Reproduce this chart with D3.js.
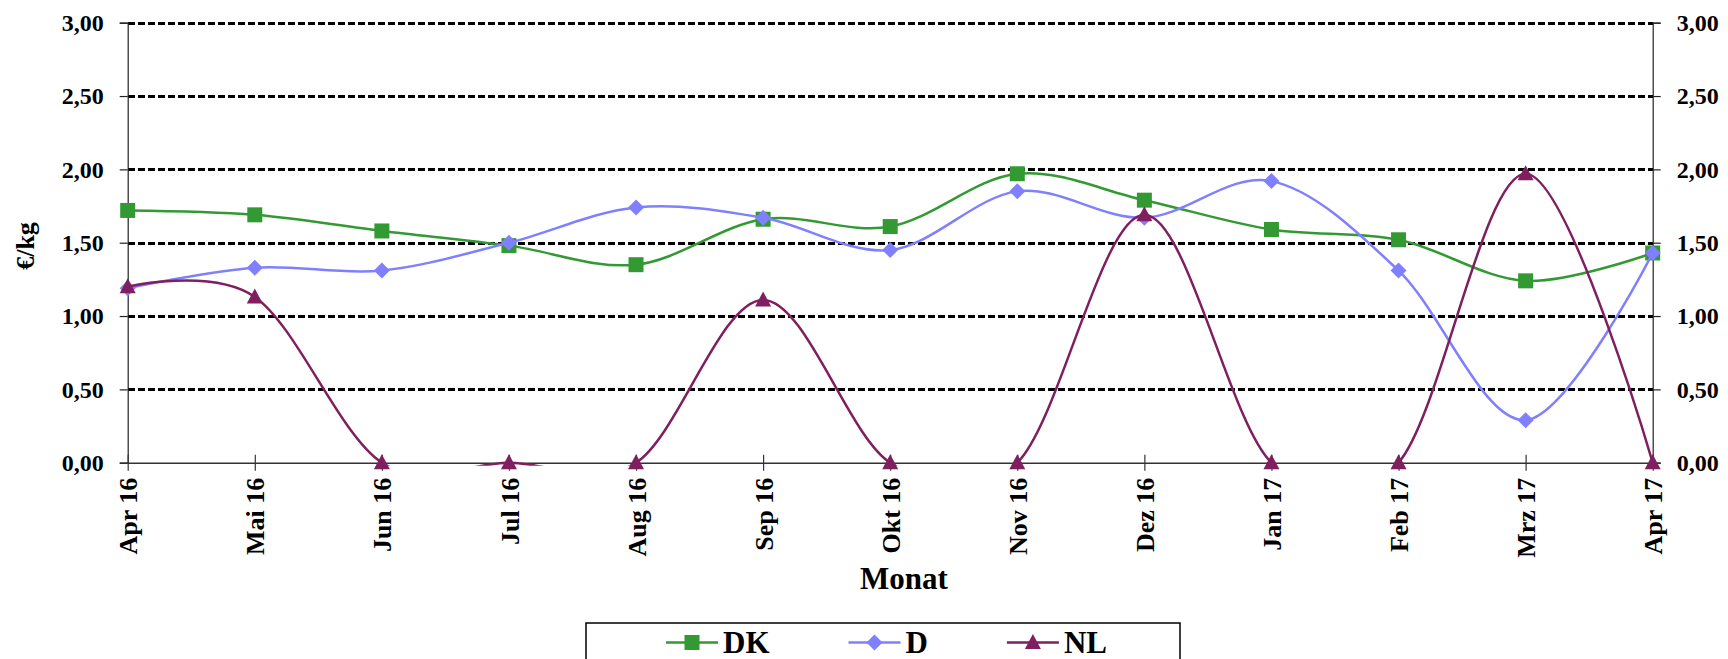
<!DOCTYPE html>
<html>
<head>
<meta charset="utf-8">
<script src="https://cdn.jsdelivr.net/npm/d3@7"></script>
<style>
  html, body { margin: 0; padding: 0; background: #fff; }
  svg { display: block; }
  text { font-family: 'Liberation Serif', 'Times New Roman', serif; font-weight: bold; fill: #000; }
</style>
</head>
<body>
<div id="chart"></div>
<script>
// data (€/kg per month)
const months = ['Apr 16', 'Mai 16', 'Jun 16', 'Jul 16', 'Aug 16', 'Sep 16', 'Okt 16',
  'Nov 16', 'Dez 16', 'Jan 17', 'Feb 17', 'Mrz 17', 'Apr 17'];
const dk = [1.72, 1.69, 1.58, 1.48, 1.35, 1.66, 1.61, 1.97, 1.79, 1.59, 1.52, 1.24, 1.43];
const de = [1.19, 1.33, 1.31, 1.50, 1.74, 1.67, 1.45, 1.85, 1.67, 1.92, 1.31, 0.29, 1.43];
const nl = [1.20, 1.13, 0, 0, 0, 1.11, 0, 0, 1.69, 0, 0, 1.97, 0];
const yTicks = [0, 0.5, 1, 1.5, 2, 2.5, 3];
const seriesNames = ['DK', 'D', 'NL'];

const width = 1728;
const height = 659;
const plot = { left: 127.7, right: 1652.7, top: 22.7, bottom: 462.7 };
const serif = "'Liberation Serif', 'Times New Roman', serif";

const svg = d3.select('#chart')
  .append('svg')
  .attr('width', width)
  .attr('height', height);

const x = d3.scalePoint().domain(months).range([plot.left, plot.right]);
const y = d3.scaleLinear().domain([0, 3]).range([plot.bottom, plot.top]);

const fmt = (d) => d.toFixed(2).replace('.', ',');

// dashed gridlines
svg.append('g')
  .selectAll('line')
  .data(yTicks.filter((d) => d > 0))
  .enter()
  .append('line')
  .attr('x1', plot.left)
  .attr('x2', plot.right)
  .attr('y1', (d) => Math.round(y(d)))
  .attr('y2', (d) => Math.round(y(d)))
  .attr('stroke', '#000')
  .attr('stroke-width', 3)
  .attr('shape-rendering', 'crispEdges')
  .attr('stroke-dasharray', '7,3');

// left and right value axes
const leftAxis = svg.append('g')
  .attr('transform', `translate(${plot.left},0)`)
  .call(d3.axisLeft(y).tickValues(yTicks).tickSize(8).tickPadding(16).tickFormat(fmt));

const rightAxis = svg.append('g')
  .attr('transform', `translate(${plot.right},0)`)
  .call(d3.axisRight(y).tickValues(yTicks).tickSize(8).tickPadding(16).tickFormat(fmt));

[leftAxis, rightAxis].forEach((g) => {
  g.select('.domain').attr('stroke', '#222').attr('stroke-width', 1.2);
  g.selectAll('.tick line').attr('stroke', '#222').attr('stroke-width', 1.2);
  g.selectAll('.tick text')
    .style('font-size', '24px')
    .style('font-family', serif)
    .style('font-weight', 'bold');
});

// category axis
const xAxis = svg.append('g')
  .attr('transform', `translate(0,${plot.bottom})`)
  .call(d3.axisBottom(x).tickSizeOuter(0));

xAxis.select('.domain').attr('stroke', '#333').attr('stroke-width', 1.5);
xAxis.selectAll('.tick line')
  .attr('y1', -8)
  .attr('y2', 8)
  .attr('stroke', '#333')
  .attr('stroke-width', 1.2);
xAxis.selectAll('.tick text')
  .attr('transform', 'rotate(-90)')
  .attr('x', -15)
  .attr('y', 0)
  .attr('dy', '0.35em')
  .style('text-anchor', 'end')
  .style('font-size', '26px')
  .style('font-family', serif)
  .style('font-weight', 'bold');

// axis titles
svg.append('text')
  .attr('x', 904)
  .attr('y', 589)
  .attr('text-anchor', 'middle')
  .style('font-size', '31px')
  .text('Monat');

svg.append('text')
  .attr('transform', 'translate(25,246) rotate(-90)')
  .attr('text-anchor', 'middle')
  .attr('dy', '0.35em')
  .style('font-size', '26px')
  .text('€/kg');

// markers
const markerPath = {
  square: 'M-7.5,-7.5H7.5V7.5H-7.5Z',
  diamond: 'M0,-8L8,0L0,8L-8,0Z',
  triangle: 'M0,-8.5L8,6.5L-8,6.5Z',
};

const series = [
  { name: seriesNames[0], values: dk, color: '#339933', marker: 'square' },
  { name: seriesNames[1], values: de, color: '#8080ff', marker: 'diamond' },
  { name: seriesNames[2], values: nl, color: '#7f1f5f', marker: 'triangle' },
];

// smoothed lines are clipped to the plot area like in the original
svg.append('clipPath')
  .attr('id', 'plot-clip')
  .append('rect')
  .attr('x', plot.left - 10)
  .attr('y', 0)
  .attr('width', plot.right - plot.left + 20)
  .attr('height', plot.bottom + 3);

const line = d3.line()
  .x((d, i) => x(months[i]))
  .y((d) => y(d))
  .curve(d3.curveCardinal.tension(0));

series.forEach((s) => {
  const g = svg.append('g');
  g.append('path')
    .attr('clip-path', 'url(#plot-clip)')
    .attr('d', line(s.values))
    .attr('fill', 'none')
    .attr('stroke', s.color)
    .attr('stroke-width', 2.5);

  g.selectAll('path.marker')
    .data(s.values)
    .enter()
    .append('path')
    .attr('class', 'marker')
    .attr('transform', (d, i) => `translate(${x(months[i])},${y(d)})`)
    .attr('d', markerPath[s.marker])
    .attr('fill', s.color);
});

// legend
const legend = svg.append('g');
legend.append('rect')
  .attr('x', 586)
  .attr('y', 623)
  .attr('width', 594)
  .attr('height', 60)
  .attr('fill', '#fff')
  .attr('stroke', '#000')
  .attr('stroke-width', 1.5);

let lx = 666;
const ly = 642.5;
series.forEach((s) => {
  legend.append('line')
    .attr('x1', lx)
    .attr('x2', lx + 52)
    .attr('y1', ly)
    .attr('y2', ly)
    .attr('stroke', s.color)
    .attr('stroke-width', 2.5);
  legend.append('path')
    .attr('transform', `translate(${lx + 26},${ly})`)
    .attr('d', markerPath[s.marker])
    .attr('fill', s.color);
  const t = legend.append('text')
    .attr('x', lx + 57)
    .attr('y', 653)
    .style('font-size', '31px')
    .text(s.name);
  lx = lx + 57 + t.node().getComputedTextLength() + 79;
});
</script>
</body>
</html>
